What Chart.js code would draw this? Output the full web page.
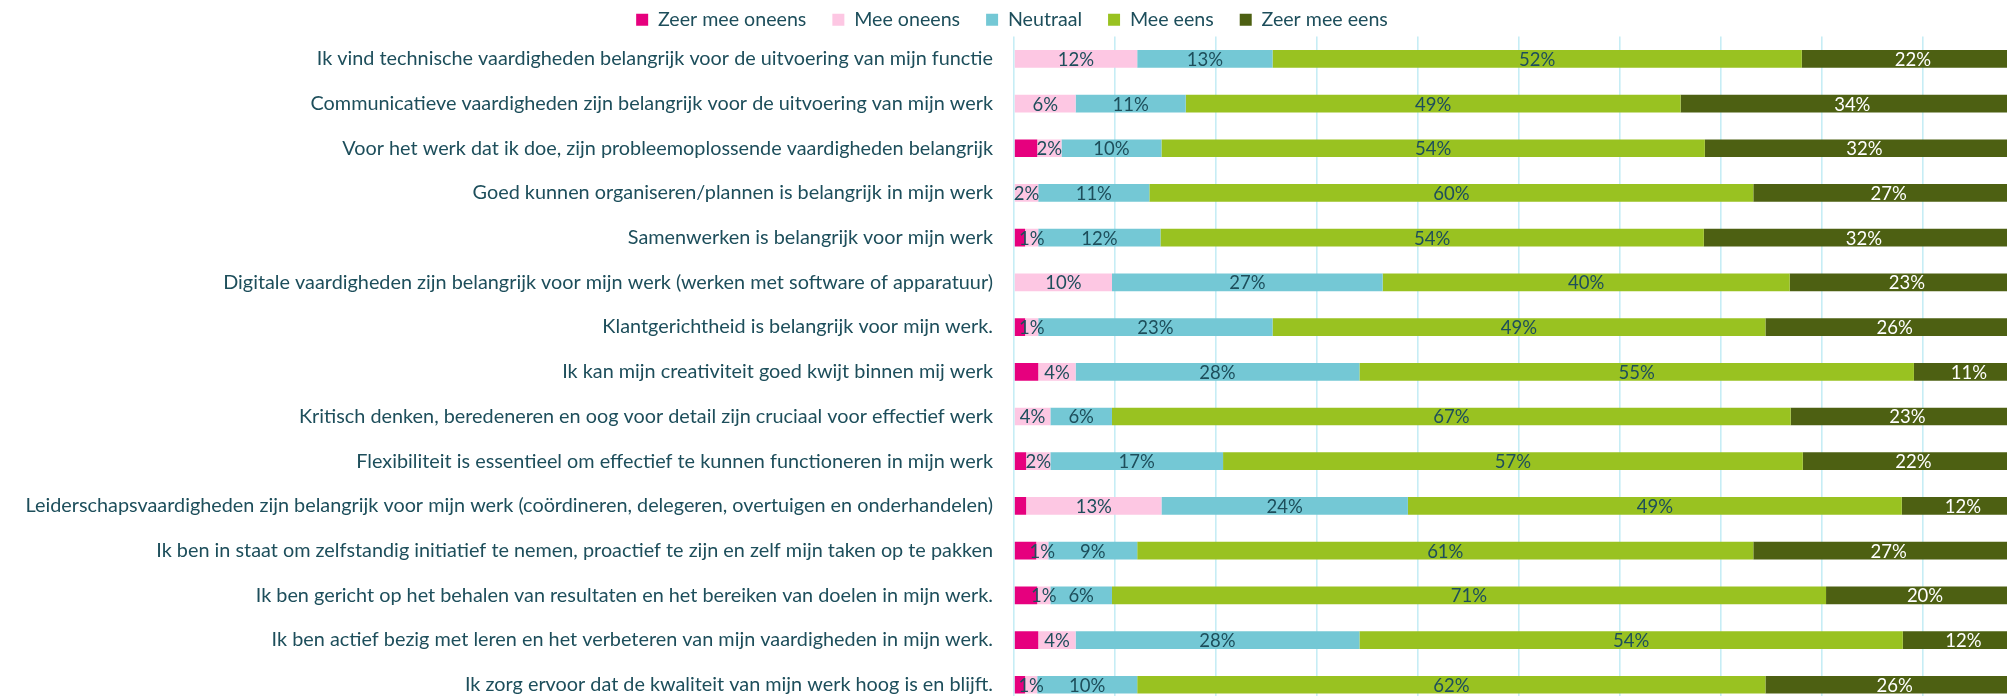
<!DOCTYPE html>
<html>
<head>
<meta charset="utf-8">
<script src="https://cdn.jsdelivr.net/npm/chart.js@4.4.1/dist/chart.umd.min.js"></script>
<style>
  html, body { margin: 0; padding: 0; background: #ffffff; overflow: hidden; }
  #wrap { position: relative; width: 2040px; height: 740px; }
</style>
</head>
<body>
<div id="wrap"><canvas id="c" width="2040" height="740"></canvas></div>
<script>
const categories = [
  "Ik vind technische vaardigheden belangrijk voor de uitvoering van mijn functie",
  "Communicatieve vaardigheden zijn belangrijk voor de uitvoering van mijn werk",
  "Voor het werk dat ik doe, zijn probleemoplossende vaardigheden belangrijk",
  "Goed kunnen organiseren/plannen is belangrijk in mijn werk",
  "Samenwerken is belangrijk voor mijn werk",
  "Digitale vaardigheden zijn belangrijk voor mijn werk (werken met software of apparatuur)",
  "Klantgerichtheid is belangrijk voor mijn werk.",
  "Ik kan mijn creativiteit goed kwijt binnen mij werk",
  "Kritisch denken, beredeneren en oog voor detail zijn cruciaal voor effectief werk",
  "Flexibiliteit is essentieel om effectief te kunnen functioneren in mijn werk",
  "Leiderschapsvaardigheden zijn belangrijk voor mijn werk (coördineren, delegeren, overtuigen en onderhandelen)",
  "Ik ben in staat om zelfstandig initiatief te nemen, proactief te zijn en zelf mijn taken op te pakken",
  "Ik ben gericht op het behalen van resultaten en het bereiken van doelen in mijn werk.",
  "Ik ben actief bezig met leren en het verbeteren van mijn vaardigheden in mijn werk.",
  "Ik zorg ervoor dat de kwaliteit van mijn werk hoog is en blijft."
];
const seriesNames = ["Zeer mee oneens", "Mee oneens", "Neutraal", "Mee eens", "Zeer mee eens"];
// percentages (labels show them rounded)
const zeerMeeOneens = [0, 0, 2.3, 0, 1.1, 0, 1.1, 2.4, 0, 1.2, 1.2, 2.2, 2.3, 2.4, 1.1];
const meeOneens     = [12.2, 6.1, 2.4, 2.4, 1.3, 9.7, 1.3, 3.7, 3.6, 2.4, 13.4, 1.2, 1.3, 3.7, 1.2];
const neutraal      = [13.4, 10.9, 9.9, 11.0, 12.1, 26.8, 23.2, 28.1, 6.1, 17.1, 24.4, 8.8, 6.1, 28.1, 9.9];
const meeEens       = [52.4, 49.0, 53.8, 59.8, 53.8, 40.3, 48.8, 54.9, 67.2, 57.4, 48.9, 61.0, 70.7, 53.8, 62.2];
const zeerMeeEens   = [22.0, 34.0, 31.6, 26.8, 31.7, 23.2, 25.6, 10.9, 23.1, 21.9, 12.1, 26.8, 19.6, 12.0, 25.6];
const xTicks = [0, 10, 20, 30, 40, 50, 60, 70, 80, 90, 100];

const colors = ["#E6007E", "#FDC7E3", "#74C8D5", "#99C221", "#4D6012"];
const textColor = "#1D4E5B";
const gridColor = "#C6EDF5";

// pick font sizes so text widths match the reference
const FONT = "Lato, 'Open Sans', 'Noto Sans', sans-serif";
const mctx = document.createElement('canvas').getContext('2d');
function fitSize(text, target) {
  mctx.font = "100px " + FONT;
  return 100 * target / mctx.measureText(text).width;
}
const tickSize = fitSize(categories[0], 677);
const legendSize = fitSize(seriesNames[0], 148.5);
const valueSize = fitSize("22%", 36.3);

const valueLabels = {
  id: 'valueLabels',
  afterDatasetsDraw(chart) {
    const ctx = chart.ctx;
    ctx.save();
    ctx.font = valueSize.toFixed(2) + "px " + FONT;
    ctx.textAlign = 'center';
    ctx.textBaseline = 'middle';
    chart.data.datasets.forEach((ds, di) => {
      if (di === 0) return;
      const meta = chart.getDatasetMeta(di);
      meta.data.forEach((bar, i) => {
        const v = ds.data[i];
        if (!v) return;
        const p = bar.getCenterPoint();
        ctx.fillStyle = di === 4 ? "#FFFFFF" : textColor;
        ctx.fillText(Math.round(v) + "%", p.x, p.y + 1);
      });
    });
    ctx.restore();
  }
};

const seriesData = [zeerMeeOneens, meeOneens, neutraal, meeEens, zeerMeeEens];

new Chart(document.getElementById('c'), {
  type: 'bar',
  data: {
    labels: categories,
    datasets: seriesNames.map((name, i) => ({
      label: name,
      data: seriesData[i],
      backgroundColor: colors[i],
      borderWidth: 0,
      barPercentage: 0.396,
      categoryPercentage: 1
    }))
  },
  plugins: [valueLabels],
  options: {
    indexAxis: 'y',
    responsive: false,
    animation: false,
    layout: { padding: { top: -16, right: 16, left: 0, bottom: 13 } },
    plugins: {
      tooltip: { enabled: false },
      legend: {
        position: 'top',
        maxHeight: 52.5,
        labels: {
          color: textColor,
          boxWidth: 12,
          boxHeight: 12,
          padding: 26,
          font: { family: FONT, size: legendSize }
        }
      }
    },
    scales: {
      x: {
        stacked: true,
        min: 0,
        max: 100,
        afterBuildTicks(scale) { scale.ticks = xTicks.map(v => ({ value: v })); },
        ticks: { display: false },
        grid: { color: gridColor, lineWidth: 1.6, drawTicks: false },
        border: { display: false }
      },
      y: {
        stacked: true,
        afterFit(scale) { scale.width = 1014; },
        ticks: {
          color: textColor,
          padding: 21,
          autoSkip: false,
          font: { family: FONT, size: tickSize }
        },
        grid: { display: false, drawTicks: false },
        border: { display: false }
      }
    }
  }
});
</script>
</body>
</html>
